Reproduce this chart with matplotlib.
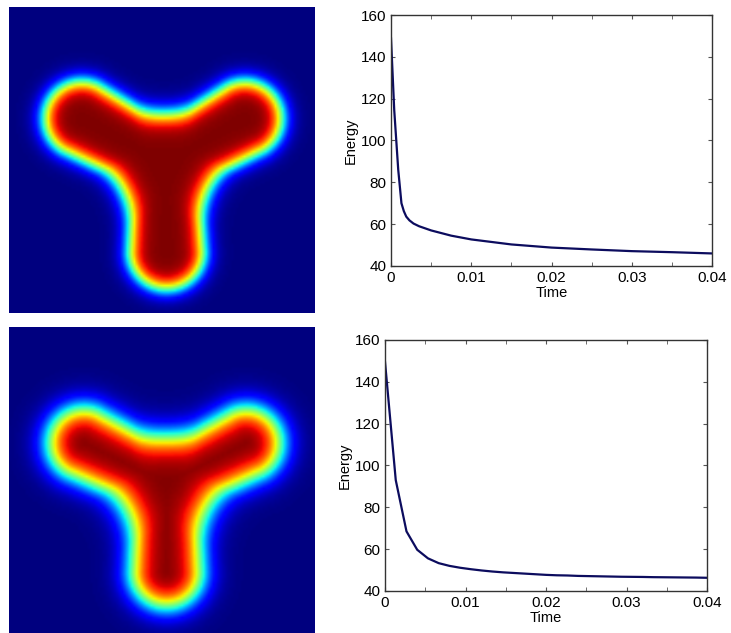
import numpy as np
import matplotlib
matplotlib.use('Agg')
import matplotlib.pyplot as plt
from matplotlib.ticker import MultipleLocator

plt.rcParams['font.family'] = ['Liberation Sans', 'DejaVu Sans']

# Y-shaped phase field: skeleton in image units (u right, v down)
junction_top = (0.51, 0.51)
tips_top = [(0.238, 0.365), (0.77, 0.365), (0.515, 0.80)]
radius_tip_top = 0.12
radius_mid_top = 0.105
width_top = 0.035

junction_bot = (0.515, 0.51)
tips_bot = [(0.245, 0.38), (0.775, 0.38), (0.515, 0.80)]
radius_tip_bot = 0.11
radius_mid_bot = 0.098
width_bot = 0.05

# energy curves
time_top = [0, 0.0004, 0.0009, 0.0013, 0.0016, 0.0019, 0.0023, 0.0028,
            0.0035, 0.005, 0.0075, 0.01, 0.015, 0.02, 0.025, 0.03, 0.035,
            0.04]
energy_top = [148.8, 114.6, 86.0, 70.0, 66.2, 63.6, 61.8, 60.3,
              59.0, 57.0, 54.5, 52.7, 50.3, 48.8, 47.9, 47.1, 46.6,
              46.0]

time_bot = list(np.linspace(0, 0.04, 31))
energy_bot = [149.5, 93.0, 68.5, 59.7, 55.6, 53.3, 52.0, 51.1, 50.4, 49.8,
              49.3, 48.9, 48.6, 48.3, 48.0, 47.7, 47.5, 47.4, 47.2, 47.1,
              47.0, 46.9, 46.8, 46.75, 46.7, 46.6, 46.55, 46.5, 46.45, 46.4,
              46.3]

xticks = [0, 0.01, 0.02, 0.03, 0.04]
xticklabels = ['0', '0.01', '0.02', '0.03', '0.04']
yticks = [40, 60, 80, 100, 120, 140, 160]


def arm_dist(px, py, a, b, ra, rb):
    # signed distance to a capsule whose radius goes from ra (at a) to rb (at b)
    ax, ay = a
    bx, by = b
    dx, dy = bx - ax, by - ay
    t = np.clip(((px - ax) * dx + (py - ay) * dy) / (dx * dx + dy * dy), 0, 1)
    return np.hypot(px - ax - t * dx, py - ay - t * dy) - (ra + t * (rb - ra))


def smin(a, b, k):
    # smooth union so the arms get rounded fillets
    h = np.clip(0.5 + 0.5 * (b - a) / k, 0, 1)
    return b * (1 - h) + a * h - k * h * (1 - h)


def y_field(junction, tips, r_tip, r_mid, width, n=128):
    u = (np.arange(n) + 0.5) / n
    U, V = np.meshgrid(u, u)
    d = None
    for tip in tips:
        di = arm_dist(U, V, junction, tip, r_mid, r_tip)
        d = di if d is None else smin(d, di, 0.1)
    return 0.5 * (1 - np.tanh(d / width))


def draw_field(ax, phi):
    ax.imshow(phi, cmap='jet', vmin=0, vmax=1, interpolation='bilinear',
              extent=(0, 1, 1, 0))
    ax.set_xticks([])
    ax.set_yticks([])
    for s in ax.spines.values():
        s.set_visible(False)


def draw_energy(ax, t, e):
    ax.plot(t, e, color='#0c0c5e', lw=1.6)
    ax.set_xlim(0, 0.04)
    ax.set_ylim(40, 160)
    ax.set_xticks(xticks)
    ax.set_xticklabels(xticklabels)
    ax.set_yticks(yticks)
    ax.xaxis.set_minor_locator(MultipleLocator(0.005))
    ax.tick_params(which='both', direction='in', top=True, right=True,
                   labelsize=11, color='#555555', length=3)
    ax.set_xlabel('Time', fontsize=10.5, labelpad=1)
    ax.set_ylabel('Energy', fontsize=10.5, labelpad=2)
    for s in ax.spines.values():
        s.set_color('#333333')
        s.set_linewidth(1.0)


fig = plt.figure(figsize=(7.31, 6.33), dpi=100)

ax1 = fig.add_axes([0.0123, 0.5055, 0.4186, 0.4834])
draw_field(ax1, y_field(junction_top, tips_top, radius_tip_top,
                        radius_mid_top, width_top))

ax3 = fig.add_axes([0.0123, 0.0, 0.4186, 0.4834])
draw_field(ax3, y_field(junction_bot, tips_bot, radius_tip_bot,
                        radius_mid_bot, width_bot))

ax2 = fig.add_axes([0.5349, 0.5798, 0.4391, 0.3965])
draw_energy(ax2, time_top, energy_top)

ax4 = fig.add_axes([0.5267, 0.0664, 0.4405, 0.3965])
draw_energy(ax4, time_bot, energy_bot)

fig.savefig('out.png', dpi=100)
